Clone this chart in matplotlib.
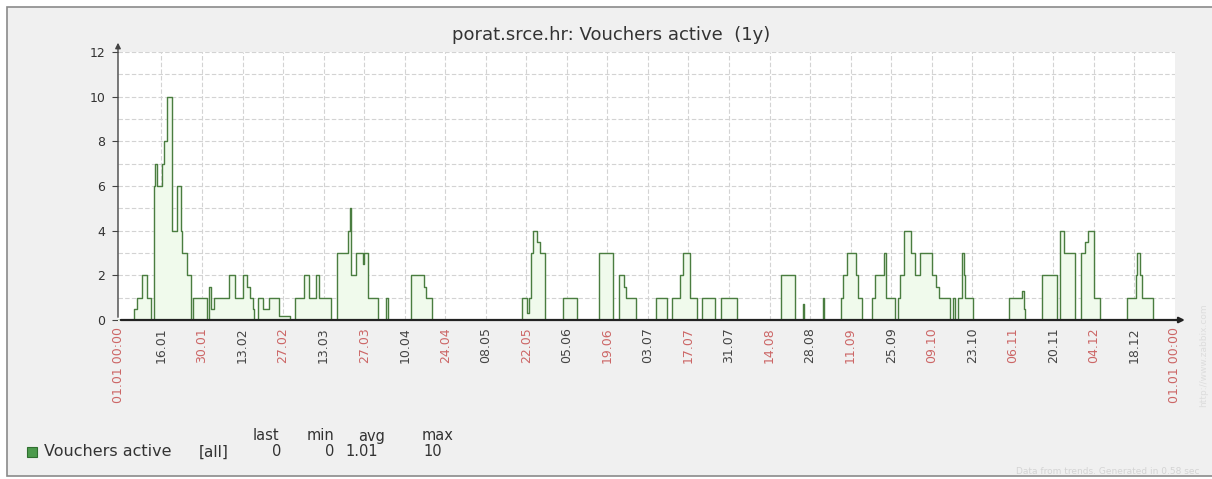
import matplotlib.pyplot as plt
from matplotlib.patches import Rectangle

# tick labels every 14 days over the 1y period (day offsets from 01.01)
tick_days = [0, 15, 29, 43, 57, 71, 85, 99, 113, 127, 141, 155, 169, 183,
             197, 211, 225, 239, 253, 267, 281, 295, 309, 323, 337, 351, 365]
tick_labels = ['01.01 00:00', '16.01', '30.01', '13.02', '27.02', '13.03', '27.03',
               '10.04', '24.04', '08.05', '22.05', '05.06', '19.06', '03.07',
               '17.07', '31.07', '14.08', '28.08', '11.09', '25.09', '09.10',
               '23.10', '06.11', '20.11', '04.12', '18.12', '01.01 00:00']

# step data: day where value starts, value held until next day
days = [0, 5.5, 6.5, 8.3, 10.0, 11.5, 12.6, 12.9, 13.4, 15.2, 16.0, 16.9, 18.6,
        20.4, 21.6, 22.1, 23.8, 25.3, 25.9, 30.8, 31.5, 32.2, 33.0, 38.5, 40.4,
        43.2, 44.5, 45.6, 46.5, 47.0, 48.5, 50.0, 52.0, 55.5, 59.5, 61.1, 64.4,
        66.0, 68.3, 69.3, 73.6, 75.6, 79.5, 80.0, 80.6, 82.2, 84.5, 85.0, 86.3,
        89.8, 92.6, 93.1, 101.3, 105.5, 106.5, 108.6,
        139.5, 141.3, 141.9, 142.5, 143.3, 144.7, 145.7, 147.4, 153.7, 158.6,
        166.1, 170.9, 173.0, 174.8, 175.5, 179.0, 185.8, 189.7, 191.3, 194.1,
        195.1, 197.5, 200.0, 201.7, 206.3, 208.3, 213.6,
        228.9, 233.8, 236.5, 237.0, 243.4, 243.8, 249.7, 250.5, 251.8, 254.7,
        255.4, 256.9, 260.5, 261.5, 264.5, 265.2, 268.3, 269.3, 270.0, 271.5,
        273.8, 275.2, 276.9, 281.1, 282.5, 283.5, 287.3, 288.3, 289.0, 290.1,
        291.4, 292.1, 292.5, 295.3,
        307.7, 312.0, 312.7, 313.2, 319.1, 324.3, 325.3, 326.7, 330.5, 332.5,
        334.0, 335.0, 336.9, 339.2, 348.4, 351.5, 352.0, 352.9, 353.5, 357.4, 365]
values = [0, 0.5, 1, 2, 1, 0, 6, 7, 6, 7, 8, 10, 4,
          6, 4, 3, 2, 0, 1, 0, 1.5, 0.5, 1, 2, 1,
          2, 1.5, 1, 0.5, 0, 1, 0.5, 1, 0.2, 0, 1, 2,
          1, 2, 1, 0, 3, 4, 5, 2, 3, 2.5, 3, 1,
          0, 1, 0, 2, 1.5, 1, 0,
          1, 0.3, 1, 3, 4, 3.5, 3, 0, 1, 0,
          3, 0, 2, 1.5, 1, 0, 1, 0, 1, 2,
          3, 1, 0, 1, 0, 1, 0,
          2, 0, 0.7, 0, 1, 0, 1, 2, 3, 2,
          1, 0, 1, 2, 3, 1, 0, 1, 2, 4,
          3, 2, 3, 2, 1.5, 1, 0, 1, 0, 1,
          3, 2, 1, 0,
          1, 1.3, 0.5, 0, 2, 0, 4, 3, 0, 3,
          3.5, 4, 1, 0, 1, 2, 3, 2, 1, 0, 0]

legend_cols = ['last', 'min', 'avg', 'max']
legend_vals = ['0', '0', '1.01', '10']

W, H = 1212, 479
fig = plt.figure(figsize=(W / 100, H / 100), dpi=100, facecolor='white')
fig.patches.append(Rectangle((7 / W, 3 / H), 1, 469 / H, transform=fig.transFigure,
                             facecolor='#f0f0f0', edgecolor='#8a8a8a', lw=1.2, zorder=-10))

ax = fig.add_axes([118 / W, 1 - 320 / H, 1057 / W, 268 / H])
ax.set_facecolor('white')
ax.set_xlim(0, 365)
ax.set_ylim(0, 12)

# grid
for y in range(1, 13):
    ax.axhline(y, color='#d3d3d3', lw=0.8, ls=(0, (4, 2)), zorder=1)
for d in tick_days[1:-1]:
    ax.axvline(d, color='#d3d3d3', lw=0.8, ls=(0, (4, 2)), zorder=1)

ax.fill_between(days, values, step='post', color='#f0faec', zorder=2)
ax.step(days, values, where='post', color='#4a7d40', lw=1.0, zorder=3)

for s in ax.spines.values():
    s.set_visible(False)
ax.annotate('', xy=(0, 1.045), xytext=(0, 0), xycoords='axes fraction',
            arrowprops=dict(arrowstyle='-|>', color='#444444', lw=1.0, mutation_scale=8))
ax.annotate('', xy=(1.012, 0), xytext=(0, 0), xycoords='axes fraction',
            arrowprops=dict(arrowstyle='-|>', color='#222222', lw=1.6, mutation_scale=8))

ax.set_yticks(range(0, 13, 2))
ax.set_yticklabels([str(v) for v in range(0, 13, 2)])
ax.tick_params(axis='y', length=4, width=0.8, color='#444444', pad=5,
               labelsize=9, labelcolor='#333333')
ax.set_xticks(tick_days)
ax.set_xticklabels(tick_labels, rotation=90, fontsize=9)
ax.tick_params(axis='x', length=0, pad=5)
for i, t in enumerate(ax.get_xticklabels()):
    t.set_color('#cc6666' if i % 2 == 0 else '#444444')

fig.text(0.504, 1 - 35 / H, 'porat.srce.hr: Vouchers active  (1y)', ha='center',
         va='center', fontsize=13, color='#333333')

# legend
ly = 1 - 452 / H
hy = 1 - 436 / H
fig.patches.append(Rectangle((27 / W, 1 - 457 / H), 10 / W, 10 / H, transform=fig.transFigure,
                             facecolor='#4c9a4c', edgecolor='#2f6f2f', lw=0.8))
fig.text(44 / W, ly, 'Vouchers active', va='center', fontsize=11.5, color='#333333')
fig.text(214 / W, ly, '[all]', va='center', ha='center', fontsize=11, color='#333333')
col_x = [266, 321, 372, 438]
for cx, name in zip(col_x, legend_cols):
    fig.text(cx / W, hy, name, ha='center', va='center', fontsize=10.5, color='#333333')
col_vx = [277, 330, 362, 433]
for vx, val in zip(col_vx, legend_vals):
    fig.text(vx / W, ly, val, ha='center', va='center', fontsize=10.5, color='#333333')

fig.text(1204 / W, 1 - 355 / H, 'http://www.zabbix.com', rotation=90, ha='center',
         va='center', fontsize=6.5, color='#dddddd')
fig.text(1200 / W, 1 - 472 / H, 'Data from trends. Generated in 0.58 sec', ha='right',
         va='center', fontsize=6.5, color='#d4d4d4')

fig.savefig('out.png', dpi=100, facecolor=fig.get_facecolor())
